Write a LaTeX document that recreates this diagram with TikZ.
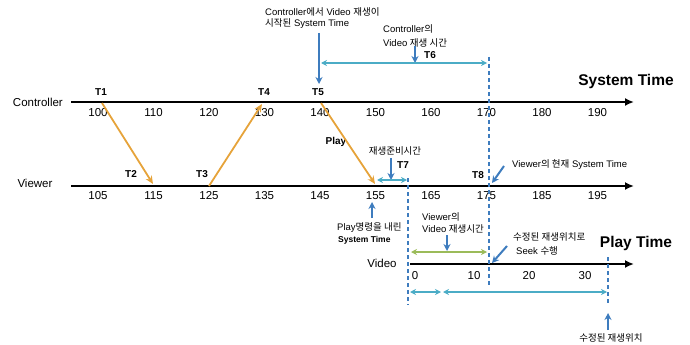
\documentclass[tikz,border=0pt]{standalone}
\usepackage{fontspec}
\setmainfont{Liberation Sans}
\newfontfamily\kr{Noto Sans CJK KR}
\usetikzlibrary{arrows.meta}
\definecolor{ora}{RGB}{230,163,58}
\definecolor{blu}{RGB}{62,124,190}
\definecolor{tea}{RGB}{75,172,198}
\definecolor{grn}{RGB}{155,187,89}
\newcommand{\K}[1]{{\kr #1}}
\begin{document}
\begin{tikzpicture}[x=1pt,y=-1pt,
  axis/.style={line width=2.2pt,-{Latex[length=9pt,width=8pt]}},
  num/.style={font=\fontsize{11.5}{12}\selectfont,inner sep=0pt},
  tlab/.style={font=\bfseries\fontsize{10}{11}\selectfont,inner sep=0pt},
  ann/.style={font=\fontsize{9.5}{11}\selectfont,inner sep=0pt,anchor=west},
  big/.style={font=\bfseries\fontsize{15.5}{17}\selectfont,inner sep=0pt},
  oarr/.style={ora,line width=1.8pt,-{Stealth[length=8pt,width=7pt]}},
  barr/.style={blu,line width=2pt,-{Stealth[length=7pt,width=7pt]}},
  tarr/.style={tea,line width=1.8pt,{Stealth[length=6pt,width=6pt]}-{Stealth[length=6pt,width=6pt]}},
  garr/.style={grn,line width=1.8pt,{Stealth[length=6pt,width=6pt]}-{Stealth[length=6pt,width=6pt]}},
  vdash/.style={blu,line width=1.6pt,dash pattern=on 4pt off 3pt}]
\useasboundingbox (0,0) rectangle (690,345);

% axes
\coordinate (cs) at (71,102); \coordinate (ce) at (634,102);
\coordinate (vs) at (71,186); \coordinate (ve) at (634,186);
\coordinate (ps) at (410,264); \coordinate (pe) at (634,264);
\draw[axis] (cs) -- (ce);
\draw[axis] (vs) -- (ve);
\draw[axis] (ps) -- (pe);

\node[num,anchor=east] (lc) at (63,102) {Controller};
\node[num] (lv) at (35,183) {Viewer};
\node[num] (lp) at (382,263) {Video};
\node[big] (st) at (626,81) {System Time};
\node[big] (pt) at (636,243) {Play Time};

% tick numbers
\foreach \v [count=\i from 0] in {100,110,120,130,140,150,160,170,180,190}
  \node[num] (c\v) at (98+55.5*\i,113) {\v};
\foreach \v [count=\i from 0] in {105,115,125,135,145,155,165,175,185,195}
  \node[num] (w\v) at (98+55.5*\i,196) {\v};
\node[num] (p0) at (415,276) {0};
\node[num] (p10) at (474,276) {10};
\node[num] (p20) at (529,276) {20};
\node[num] (p30) at (585,276) {30};

% T labels
\node[tlab] (t1) at (101,92) {T1};
\node[tlab] (t4) at (264,92) {T4};
\node[tlab] (t5) at (318,92) {T5};
\node[tlab] (t2) at (131,174) {T2};
\node[tlab] (t3) at (202,174) {T3};
\node[tlab] (t7) at (403,165) {T7};
\node[tlab] (t8) at (478,175) {T8};
\node[tlab] (t6) at (430,55) {T6};
\node[tlab] (play) at (336,142) {Play};

% dashed verticals
\coordinate (d1a) at (408,178); \coordinate (d1b) at (408,305);
\coordinate (d2a) at (489,57);  \coordinate (d2b) at (489,287);
\coordinate (d3a) at (608,257); \coordinate (d3b) at (608,305);
\draw[vdash] (d1a) -- (d1b);
\draw[vdash] (d2a) -- (d2b);
\draw[vdash] (d3a) -- (d3b);

% orange messages
\coordinate (o1a) at (102,103); \coordinate (o1b) at (153,184);
\coordinate (o2a) at (209,186); \coordinate (o2b) at (262,104);
\coordinate (o3a) at (321,103); \coordinate (o3b) at (375,184);
\draw[oarr] (o1a) -- (o1b);
\draw[oarr] (o2a) -- (o2b);
\draw[oarr] (o3a) -- (o3b);

% annotations
\node[ann] (a1) at (265,12) {Controller\K{에서} Video \K{재생이}};
\node[ann] (a2) at (265,24) {\K{시작된} System Time};
\node[ann] (a3) at (383,29) {Controller\K{의}};
\node[ann] (a4) at (383,43) {Video \K{재생 시간}};
\node[ann,anchor=center] (a5) at (395,151) {\K{재생준비시간}};
\node[ann] (a6) at (512,165) {Viewer\K{의 현재} System Time};
\node[ann] (a7) at (337,228) {Play\K{명령을 내린}};
\node[ann,font=\bfseries\fontsize{8.5}{10}\selectfont] (a8) at (338,240) {System Time};
\node[ann] (a9) at (422,217) {Viewer\K{의}};
\node[ann] (a10) at (422,229) {Video \K{재생시간}};
\node[ann] (a11) at (513,237) {\K{수정된 재생위치로}};
\node[ann] (a12) at (516,251) {Seek \K{수행}};
\node[ann,anchor=center] (a13) at (611,338) {\K{수정된 재생위치}};

% blue pointer arrows
\coordinate (b1a) at (319,33);  \coordinate (b1b) at (319,84);
\coordinate (b2a) at (415,46);  \coordinate (b2b) at (415,63);
\coordinate (b3a) at (391,158); \coordinate (b3b) at (391,180);
\coordinate (b4a) at (504,166); \coordinate (b4b) at (492,183);
\coordinate (b5a) at (372,218); \coordinate (b5b) at (372,202);
\coordinate (b6a) at (447,235); \coordinate (b6b) at (447,251);
\coordinate (b7a) at (507,246); \coordinate (b7b) at (492,263);
\coordinate (b8a) at (608,330); \coordinate (b8b) at (608,313);
\foreach \n in {1,...,8} \draw[barr] (b\n a) -- (b\n b);

% spans
\coordinate (s1a) at (321,63);  \coordinate (s1b) at (487,63);
\coordinate (s2a) at (377,180); \coordinate (s2b) at (407,180);
\coordinate (s3a) at (410,292); \coordinate (s3b) at (441,292);
\coordinate (s4a) at (443,292); \coordinate (s4b) at (607,292);
\coordinate (g1a) at (411,252); \coordinate (g1b) at (487,252);
\draw[tarr] (s1a) -- (s1b);
\draw[tarr] (s2a) -- (s2b);
\draw[tarr] (s3a) -- (s3b);
\draw[tarr] (s4a) -- (s4b);
\draw[garr] (g1a) -- (g1b);
\end{tikzpicture}
\end{document}
